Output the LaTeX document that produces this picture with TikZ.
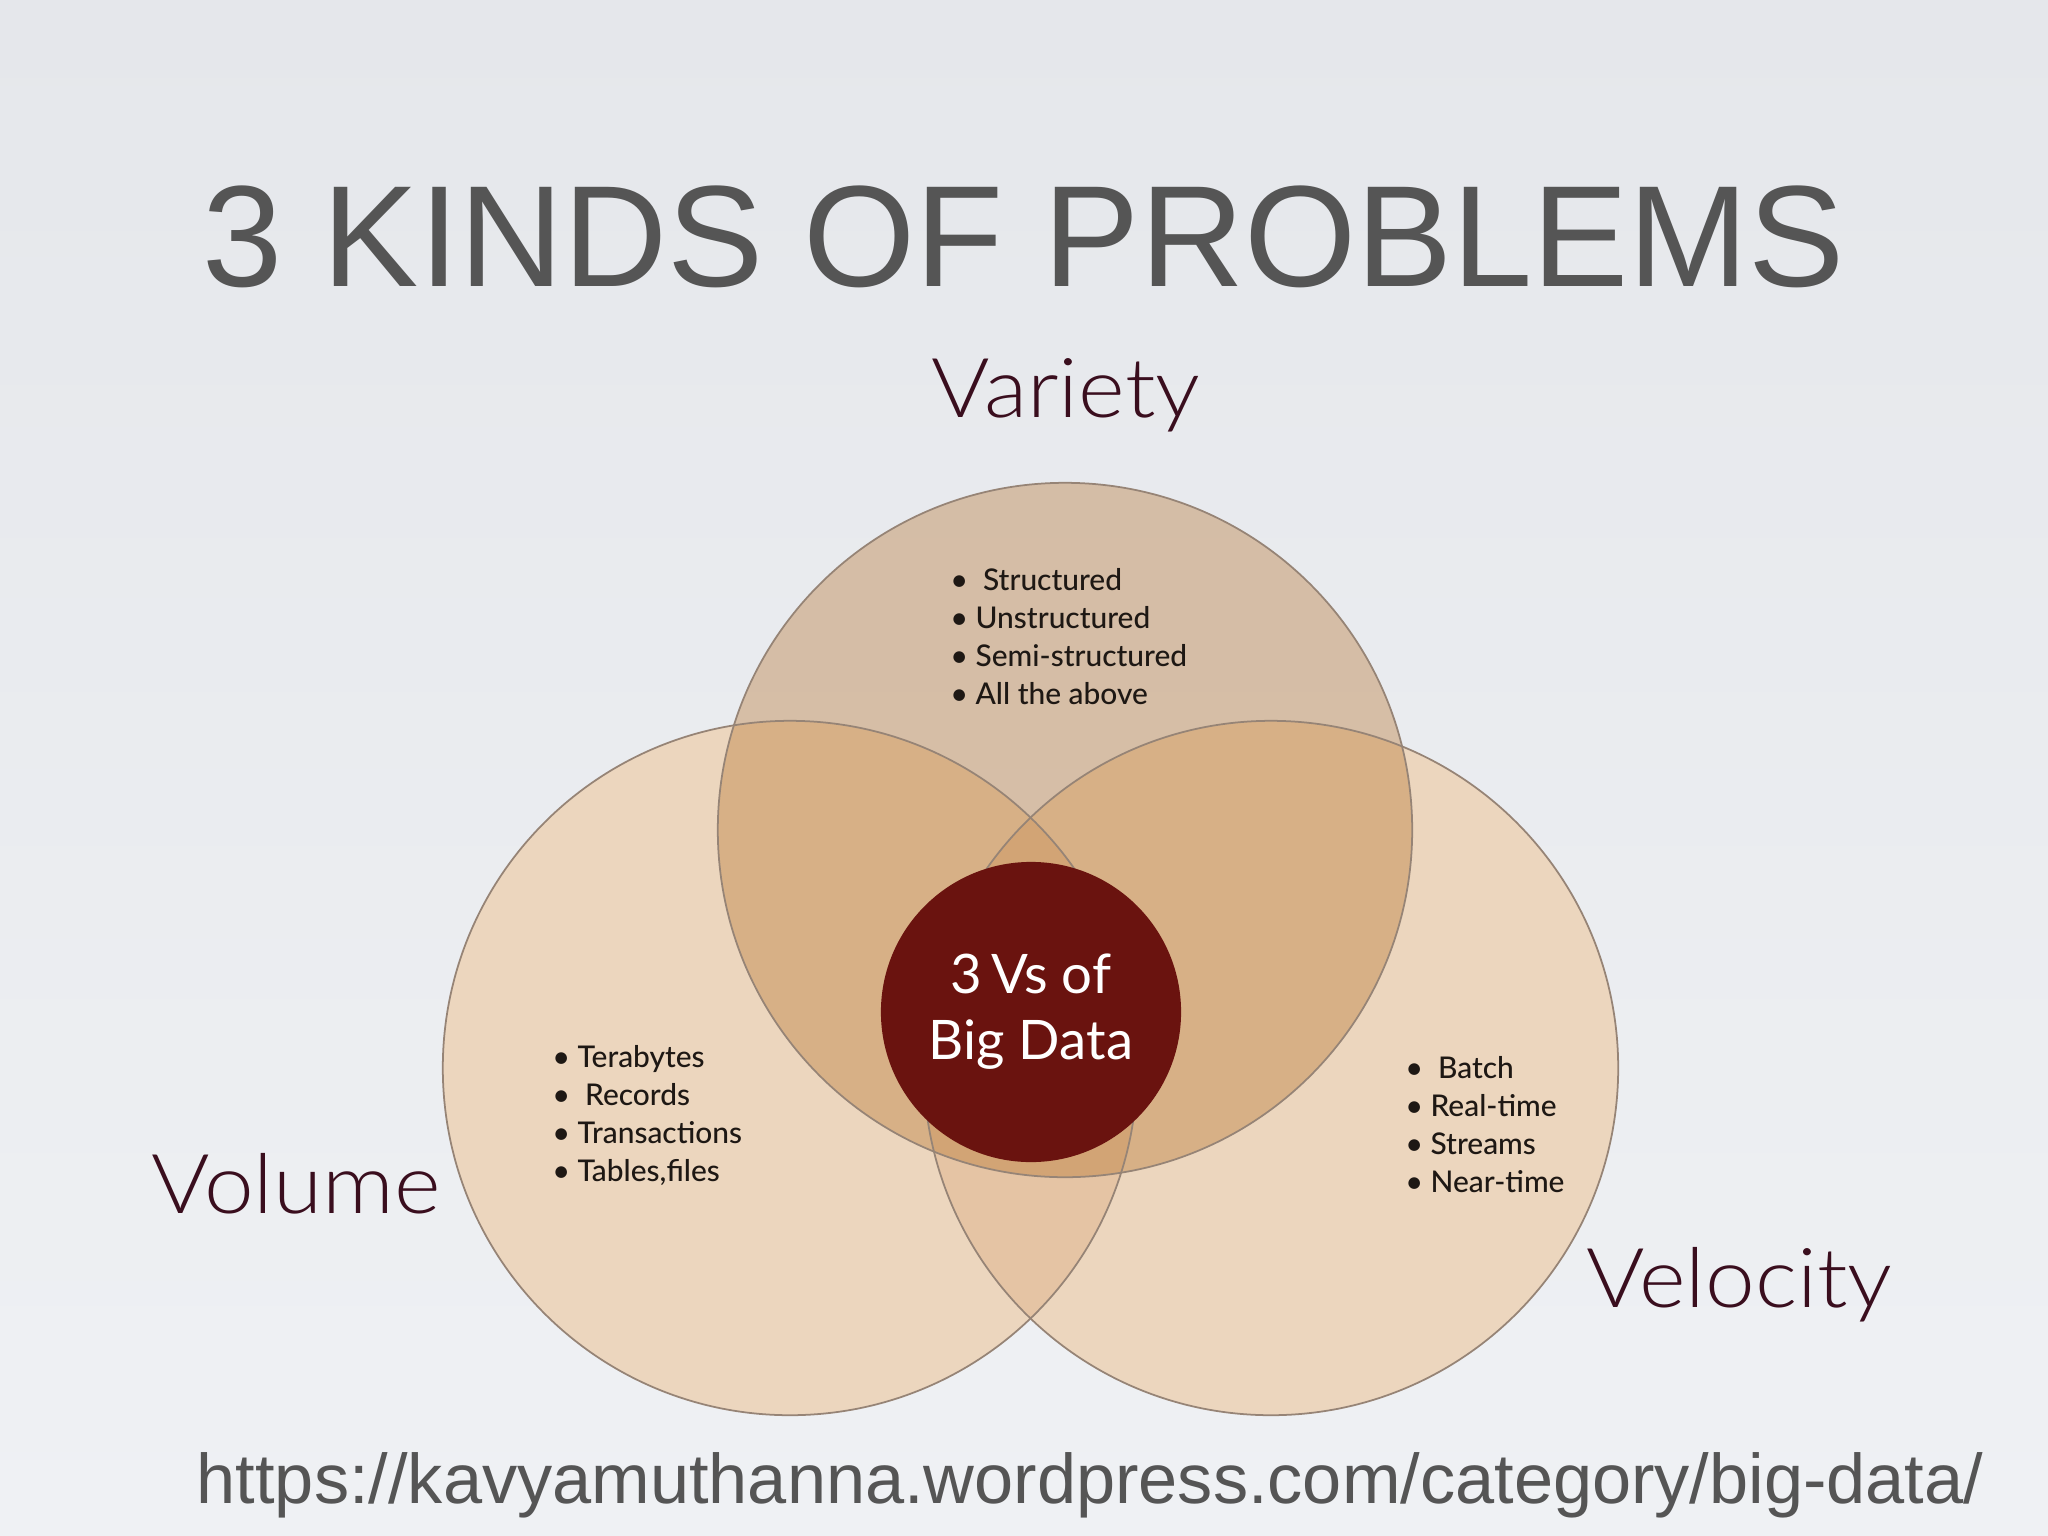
\documentclass[tikz,border=0pt]{standalone}
\usepackage{fontspec}
\setmainfont{Liberation Sans}
\newfontfamily\gillfont{Lato}
\newfontfamily\gilllight{Lato Light}
\newfontfamily\gillmed{Lato Medium}
\usetikzlibrary{positioning}
\definecolor{slidetop}{RGB}{229,231,235}
\definecolor{slidebot}{RGB}{239,241,244}
\definecolor{titlegray}{RGB}{85,85,85}
\definecolor{vmaroon}{RGB}{58,14,30}
\definecolor{peach}{RGB}{236,214,190}
\definecolor{lens}{RGB}{229,196,164}
\definecolor{tan}{RGB}{177,106,32}
\definecolor{rimline}{RGB}{150,132,118}
\definecolor{coredark}{RGB}{106,19,15}
\definecolor{bullettext}{RGB}{30,24,20}

\begin{document}
\begin{tikzpicture}[x=0.01cm,y=-0.01cm,
  vlabel/.style={font=\gilllight\fontsize{23.5}{26}\selectfont,text=vmaroon,inner sep=0pt,xscale=1.08},
  bitem/.style={font=\gillmed\fontsize{8.5}{10}\selectfont,text=bullettext,inner sep=0pt,anchor=base west},
  rim/.style={draw=rimline,line width=0.5pt}]
\useasboundingbox (0,0) rectangle (2048,1536);
\fill[top color=slidetop,bottom color=slidebot] (0,0) rectangle (2048,1536);
% Circle centres
\coordinate (cvar) at (1065,830);
\coordinate (cvol) at (790,1068);
\coordinate (cvel) at (1271,1068);
% Fills
\fill[peach] (cvol) circle[radius=3.47cm];
\fill[peach] (cvel) circle[radius=3.47cm];
\begin{scope}
\clip (cvol) circle[radius=3.47cm];
\fill[lens] (cvel) circle[radius=3.47cm];
\end{scope}
\fill[tan,opacity=0.35] (cvar) circle[radius=3.47cm];
% Outlines
\draw[rim] (cvol) circle[radius=3.47cm];
\draw[rim] (cvel) circle[radius=3.47cm];
\draw[rim] (cvar) circle[radius=3.47cm];
% Core
\node[circle,fill=coredark,minimum size=3cm,inner sep=0pt,align=center,
  font=\gillfont\fontsize{15.5}{18.8}\selectfont,text=white] (core) at (1031,1012) {3\,Vs of\\Big Data};
% Titles
\node[font=\fontsize{41}{45}\selectfont,text=titlegray,anchor=base] (title) at (1024,286) {3 KINDS OF PROBLEMS};
\node[vlabel,anchor=base] (variety) at (1066,417) {Variety};
\node[vlabel,anchor=base west] (volume) at (151,1213) {Volume};
\node[vlabel,anchor=base west] (velocity) at (1586,1307) {Velocity};
% Bullet lists
\foreach \item [count=\i] in {\ Structured,Unstructured,Semi-structured,All the above}
  \node[bitem] (var\i) at (950,{590+38*(\i-1)}) {\textbullet\ \item};
\foreach \item [count=\i] in {Terabytes,\ Records,Transactions,{Tables,files}}
  \node[bitem] (vol\i) at (552,{1067+38.3*(\i-1)}) {\textbullet\ \item};
\foreach \item [count=\i] in {\ Batch,Real-time,Streams,Near-time}
  \node[bitem] (vel\i) at (1405,{1078+38.3*(\i-1)}) {\textbullet\ \item};
% Source
\node[font=\fontsize{20}{24}\selectfont,text=titlegray,anchor=base] (source) at (1090,1503) {https://kavyamuthanna.wordpress.com/category/big-data/};
\end{tikzpicture}
\end{document}
